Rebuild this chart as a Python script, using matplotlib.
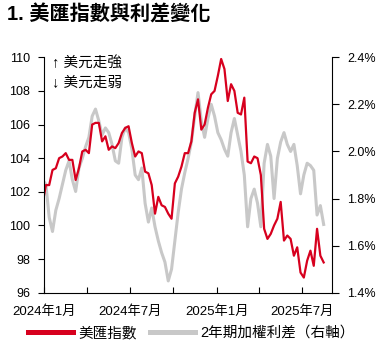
import pandas as pd
import matplotlib
matplotlib.use('Agg')
import matplotlib.pyplot as plt
from matplotlib.lines import Line2D
from matplotlib.ticker import FuncFormatter

plt.rcParams['font.family'] = ['Liberation Sans', 'Noto Sans CJK TC']

# weekly (Friday) observations
week_dates = pd.date_range('2023-12-29', '2025-08-15', freq='7D')

# US dollar index (left axis)
dxy = [101.3,
       102.4, 102.4, 103.3, 103.4, 104.0, 104.1, 104.3, 103.9, 103.9, 102.7, 103.4, 104.4, 104.5,
       104.3, 106.0, 106.1, 106.1, 105.0, 105.3, 104.5, 104.7, 104.6, 104.9, 105.5, 105.8, 105.9,
       104.9, 104.1, 104.4, 104.3, 103.2, 103.1, 102.4, 100.7, 101.7, 101.2, 101.1, 100.7, 100.4,
       102.5, 102.9, 103.5, 104.3, 104.3, 105.0, 106.7, 107.5, 105.7, 106.0, 107.0, 107.8, 108.0,
       108.9, 109.9, 109.3, 107.4, 108.4, 108.0, 106.7, 106.6, 107.6, 103.8, 103.7, 104.1, 104.0,
       103.0, 99.8, 99.2, 99.5, 100.0, 100.4, 101.4, 99.1, 99.4, 99.2, 98.2, 98.7, 97.2,
       96.9, 97.9, 98.5, 97.6, 99.8, 98.2, 97.8]

# 2-year weighted rate spread, % (right axis)
spread = [1.88,
          1.86, 1.72, 1.66, 1.75, 1.80, 1.86, 1.92, 1.96, 1.88, 1.83, 1.93, 1.97, 2.02,
          2.06, 2.15, 2.18, 2.13, 2.07, 2.10, 2.08, 2.03, 1.96, 1.95, 2.06, 2.10, 2.08,
          2.01, 1.90, 1.88, 1.93, 1.78, 1.70, 1.76, 1.68, 1.62, 1.57, 1.53, 1.45, 1.50,
          1.62, 1.74, 1.84, 1.91, 1.97, 2.04, 2.15, 2.25, 2.13, 2.06, 2.14, 2.20, 2.15,
          2.08, 2.05, 2.01, 1.98, 2.08, 2.14, 2.07, 2.00, 1.90, 1.68, 1.80, 1.84, 1.78,
          1.68, 1.95, 2.03, 1.98, 1.80, 1.97, 2.04, 2.08, 2.03, 2.00, 2.03, 1.94, 1.82,
          1.90, 1.95, 1.94, 1.92, 1.73, 1.77, 1.69]

tick_dates = pd.to_datetime(['2024-01-01', '2024-04-01', '2024-07-01', '2024-10-01',
                             '2025-01-01', '2025-04-01', '2025-07-01'])
tick_labels = ['2024年1月', '', '2024年7月', '', '2025年1月', '', '2025年7月']
left_ticks = [96, 98, 100, 102, 104, 106, 108, 110]
right_ticks = [1.4, 1.6, 1.8, 2.0, 2.2, 2.4]

red = '#D7001E'
grey = '#C8C8C8'

fig = plt.figure(figsize=(3.86, 3.48), dpi=100)
ax = fig.add_axes([44 / 386, 1 - 292.7 / 348, 287.7 / 386, 235.4 / 348])
ax2 = ax.twinx()

ax2.plot(week_dates, spread, color=grey, lw=2.2)
ax.plot(week_dates, dxy, color=red, lw=1.6)
ax.set_zorder(ax2.get_zorder() + 1)
ax.patch.set_visible(False)

ax.set_xlim(pd.Timestamp('2024-01-01'), pd.Timestamp('2025-09-01'))
ax.set_ylim(96, 110)
ax2.set_ylim(1.4, 2.4)
ax.set_yticks(left_ticks)
ax2.set_yticks(right_ticks)
ax2.yaxis.set_major_formatter(FuncFormatter(lambda v, p: f'{v:.1f}%'))
ax.set_xticks(tick_dates)
ax.set_xticklabels(tick_labels)

for a in (ax, ax2):
    a.spines['top'].set_visible(False)
ax.spines['right'].set_visible(False)
ax2.spines['left'].set_visible(False)
ax2.spines['bottom'].set_visible(False)
for s in ('left', 'bottom'):
    ax.spines[s].set_linewidth(0.8)
ax2.spines['right'].set_linewidth(0.8)

ax.tick_params(axis='y', direction='out', length=4, width=0.8, labelsize=9, pad=6)
ax.tick_params(axis='x', direction='in', length=4.5, width=0.8, labelsize=9.5, pad=9)
ax2.tick_params(axis='y', direction='out', length=5, width=0.8, labelsize=9, pad=6)

fig.text(52 / 386, 1 - 63 / 348, '↑ 美元走強', fontsize=10.5, va='center')
fig.text(52 / 386, 1 - 83 / 348, '↓ 美元走弱', fontsize=10.5, va='center')

fig.text(7 / 386, 1 - 15 / 348, '1. 美匯指數與利差變化', fontsize=14.5,
         fontweight='bold', va='center')

handles = [Line2D([], [], color=red, lw=3.6), Line2D([], [], color=grey, lw=3.6)]
fig.legend(handles, ['美匯指數', '2年期加權利差（右軸）'], loc='center',
           bbox_to_anchor=(0.496, 1 - 333 / 348), ncol=2, frameon=False,
           fontsize=10.5, handlelength=3.1, handletextpad=0.35,
           columnspacing=0.9, borderpad=0, borderaxespad=0)

fig.savefig('out.png', dpi=100)
